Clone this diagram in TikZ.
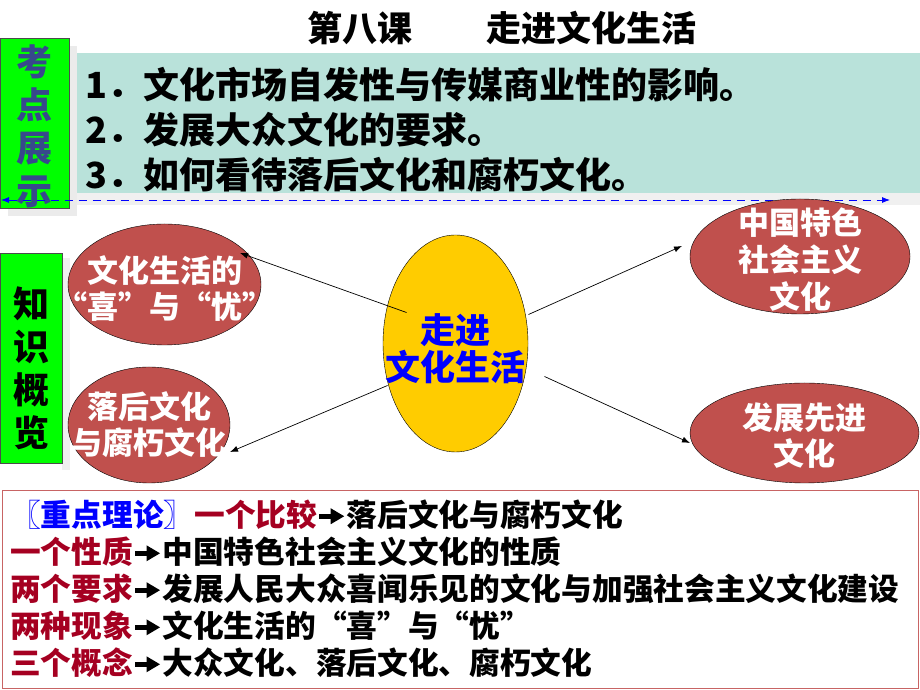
\documentclass[tikz,border=0pt]{standalone}
\usepackage{fontspec}
\setmainfont{Noto Sans CJK SC}
\usetikzlibrary{shapes, arrows.meta, positioning}
\definecolor{bubred}{RGB}{192,80,77}
\definecolor{leafgreen}{RGB}{0,255,0}
\definecolor{paleteal}{RGB}{185,226,218}
\definecolor{coreyellow}{RGB}{255,204,0}
\definecolor{slateblue}{RGB}{55,72,140}
\definecolor{darkred}{RGB}{165,0,33}
\definecolor{boxred}{RGB}{200,100,100}
\tikzstyle{tab} = [draw=black!70, fill=leafgreen, rectangle, inner sep=0pt]
\tikzstyle{tabtext} = [font=\fontsize{36}{43}\selectfont\bfseries, align=center]
\tikzstyle{bubble} = [draw, fill=bubred, ellipse, inner sep=0pt]
\tikzstyle{bubtext} = [text=white, font=\fontsize{31}{36}\selectfont\bfseries, align=center]
\tikzstyle{item} = [anchor=west, inner sep=0pt, font=\fontsize{36}{40}\selectfont\bfseries]
\tikzstyle{point} = [anchor=west, inner sep=0pt, font=\fontsize{30.7}{36}\selectfont\bfseries]
\tikzstyle{link} = [->, line width=0.7pt]
\newcommand{\goto}{\hspace{1.5pt}\tikz[baseline={(0pt,-10.5pt)}]{\fill[black] (0pt,-2.6pt) rectangle (14pt,2.6pt); \fill[black] (12pt,-8pt) -- (25.5pt,0pt) -- (12pt,8pt) -- cycle;}\hspace{2.5pt}}
\newcommand{\kw}[1]{\textcolor{darkred}{#1}}

\begin{document}
\begin{tikzpicture}[>={Latex[length=8pt,width=6pt]}, x=1pt, y=1pt]
    \useasboundingbox (0,0) rectangle (920,690);
    % title and key points
    \node[font=\fontsize{35}{40}\selectfont\bfseries] (title) at (502,662) {第八课\hspace{75pt}走进文化生活};
    \fill[black!6] (77,485) rectangle (920,497);
    \fill[black!8] (8,474) rectangle (77,644);
    \node[tab, minimum width=69, minimum height=170] (kd) at (34.5,567) {};
    \node[tabtext, text=slateblue] at ([yshift=-3]kd.center) {考\\点\\展\\示};
    \node[fill=paleteal, minimum width=843, minimum height=140, inner sep=0pt] (list) at (498.5,567) {};
    \node[item] (k1) at (85,605) {1．文化市场自发性与传媒商业性的影响。};
    \node[item] (k2) at (85,560) {2．发展大众文化的要求。};
    \node[item] (k3) at (85,515) {3．如何看待落后文化和腐朽文化。};
    \coordinate (dl) at (1,490);
    \coordinate (dr) at (890,490);
    \draw[<->, blue, thick, dash pattern=on 8pt off 6pt] (dl) -- (dr);

    % overview
    \fill[black!6] (62,220) rectangle (70,432);
    \node[tab, minimum width=62, minimum height=210] (zs) at (31,332) {};
    \node[tabtext] at ([yshift=-10]zs.center) {知\\识\\概\\览};
    \node[draw, fill=coreyellow, ellipse, minimum width=145, minimum height=217] (core) at (455.5,346.5) {};
    \node[font=\fontsize{35}{37}\selectfont\bfseries, text=blue, align=center] at ([yshift=-5]core.center) {走进\\文化生活};
    \node[bubble, minimum width=193, minimum height=121] (xy) at (164.5,405.5) {};
    \node[bubtext, yshift=-4] at (xy) {文化生活的\\“喜”与“忧”};
    \node[bubble, minimum width=162, minimum height=116] (lf) at (149,265) {};
    \node[bubtext] at (lf) {落后文化\\与腐朽文化};
    \node[bubble, minimum width=220, minimum height=115] (ts) at (800,433.5) {};
    \node[bubtext, font=\fontsize{31}{37}\selectfont\bfseries, yshift=-3] at (ts) {中国特色\\社会主义\\文化};
    \node[bubble, minimum width=229, minimum height=100] (xj) at (804.5,257) {};
    \node[bubtext, yshift=-3] at (xj) {发展先进\\文化};
    \draw[link] ([shift={(-49,31)}]core.center) -- ([shift={(75.5,31.5)}]xy.center);
    \draw[link] ([shift={(-68,-42)}]core.center) -- ([shift={(81,-27)}]lf.center);
    \draw[link] ([shift={(73,29)}]core.center) -- ([shift={(-118,10.5)}]ts.center);
    \draw[link] ([shift={(89,-33)}]core.center) -- ([shift={(-114.5,-10)}]xj.center);

    % summary
    \node[draw=boxred, thick, minimum width=916, minimum height=198, inner sep=0pt] (sum) at (460,101) {};
    \node[point] (p1) at (10,175) {\textcolor{blue}{〖重点理论〗}\kw{一个比较}\goto 落后文化与腐朽文化};
    \node[point] (p2) at (10,138) {\kw{一个性质}\goto 中国特色社会主义文化的性质};
    \node[point] (p3) at (10,101) {\kw{两个要求}\goto 发展人民大众喜闻乐见的文化与加强社会主义文化建设};
    \node[point] (p4) at (10,64) {\kw{两种现象}\goto 文化生活的“喜”与“忧”};
    \node[point] (p5) at (10,27) {\kw{三个概念}\goto 大众文化、落后文化、腐朽文化};
\end{tikzpicture}
\end{document}
